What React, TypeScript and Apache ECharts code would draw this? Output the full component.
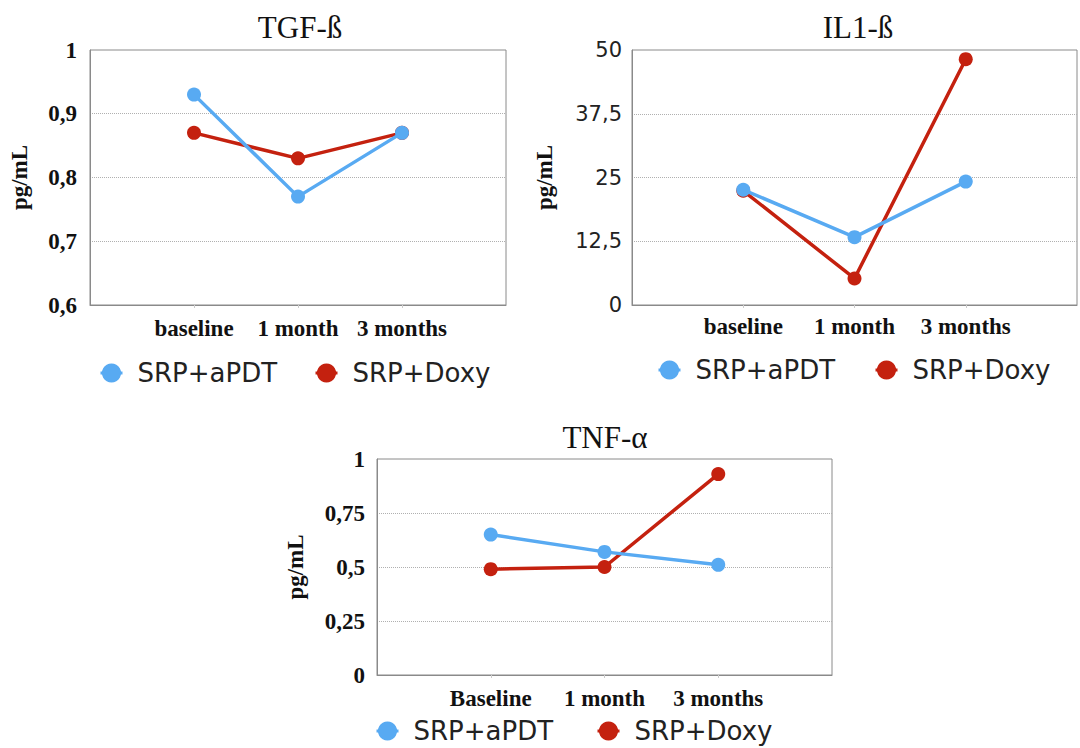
import React, { useEffect, useRef } from 'react';
import * as echarts from 'echarts';

const categories = ['baseline', '1 month', '3 months'];
const categoriesTNF = ['Baseline', '1 month', '3 months'];
const seriesNames = ['SRP+aPDT', 'SRP+Doxy'];
const titles = ['TGF-ß', 'IL1-ß', 'TNF-α'];
const yName = 'pg/mL';

const tgfAPDT = [0.93, 0.77, 0.87];
const tgfDoxy = [0.87, 0.83, 0.87];
const il1APDT = [22.6, 13.3, 24.2];
const il1Doxy = [22.4, 5.2, 48.2];
const tnfAPDT = [0.65, 0.57, 0.51];
const tnfDoxy = [0.49, 0.5, 0.93];

const tgfRange = [0.6, 1, 0.1];
const il1Range = [0, 50, 12.5];
const tnfRange = [0, 1, 0.25];

const BLUE = '#58aaf2';
const RED = '#c4210f';
const SERIF = "'Liberation Serif', 'Times New Roman', serif";
const SANS = "'DejaVu Sans', 'Liberation Sans', sans-serif";
const INK = '#111111';
const BORDER = '#8a8a8a';

const commaFmt = (v: number) => String(Math.round(v * 1000) / 1000).replace('.', ',');
const padCats = (c: string[]) => ['', ...c, ''];
const toPoints = (vals: number[]) => vals.map((v, i) => [i + 1, v]);

export default function App() {
  const ref = useRef<HTMLDivElement>(null);

  useEffect(() => {
    if (!ref.current) return;
    const chart = echarts.init(ref.current, null, { renderer: 'svg' });

    const grids = [
      { left: 90, top: 50, width: 416, height: 255 },
      { left: 632, top: 50, width: 454, height: 255 },
      { left: 377, top: 459, width: 455, height: 216 },
    ].map((g) => ({ ...g, show: true, borderColor: BORDER, borderWidth: 1, backgroundColor: 'transparent', containLabel: false }));

    const xCats = [categories, categories, categoriesTNF];
    const xMargins = [12, 10, 12];
    const xAxis = xCats.map((c, i) => ({
      type: 'category',
      gridIndex: i,
      data: padCats(c),
      boundaryGap: false,
      axisLine: { show: true, lineStyle: { color: BORDER, width: 1 } },
      axisTick: {
        show: true,
        length: 3,
        interval: (_idx: number, v: string) => v !== '',
        lineStyle: { color: '#cccccc' },
      },
      axisLabel: {
        interval: 0,
        margin: xMargins[i],
        fontFamily: SERIF,
        fontWeight: 'bold',
        fontSize: 23,
        color: INK,
      },
      splitLine: { show: false },
    }));

    const ranges = [tgfRange, il1Range, tnfRange];
    const nameGaps = [59, 76, 70];
    const labelMargins = [13, 10, 12];
    const yAxis = ranges.map((r, i) => ({
      type: 'value',
      gridIndex: i,
      min: r[0],
      max: r[1],
      interval: r[2],
      axisLine: { show: true, lineStyle: { color: BORDER, width: 1 } },
      axisTick: { show: false },
      splitLine: {
        show: true,
        showMinLine: false,
        showMaxLine: false,
        lineStyle: { type: 'dotted', color: '#b0b0b0', width: 1 },
      },
      axisLabel: {
        margin: labelMargins[i],
        formatter: commaFmt,
        fontFamily: i === 1 ? SANS : SERIF,
        fontWeight: i === 1 ? 'normal' : 'bold',
        fontSize: i === 1 ? 21 : 23,
        color: i === 1 ? '#222222' : INK,
      },
      name: yName,
      nameLocation: 'middle',
      nameRotate: 90,
      nameGap: nameGaps[i],
      nameTextStyle: { fontFamily: SERIF, fontWeight: 'bold', fontSize: 23, color: INK },
    }));

    const groups = [
      [tgfAPDT, tgfDoxy],
      [il1APDT, il1Doxy],
      [tnfAPDT, tnfDoxy],
    ];
    const colors = [BLUE, RED];
    const series: any[] = [];
    groups.forEach((pair, gi) => {
      // draw Doxy first so aPDT sits on top
      [1, 0].forEach((si) => {
        series.push({
          type: 'line',
          name: seriesNames[si],
          xAxisIndex: gi,
          yAxisIndex: gi,
          data: toPoints(pair[si]),
          symbol: 'circle',
          symbolSize: 14,
          showSymbol: true,
          lineStyle: { width: 3.5, color: colors[si] },
          itemStyle: { color: colors[si] },
          z: si === 0 ? 3 : 2,
        });
      });
    });

    const legendSpots = [
      [99, 360, 314, 360],
      [657, 357, 874, 357],
      [375, 718, 596, 718],
    ];
    const legend: any[] = [];
    legendSpots.forEach((s) => {
      seriesNames.forEach((n, k) => {
        legend.push({
          data: [n],
          left: s[k * 2],
          top: s[k * 2 + 1],
          orient: 'horizontal',
          itemWidth: 22,
          itemHeight: 24,
          padding: 0,
          lineStyle: { width: 3 },
          textStyle: {
            fontFamily: SANS,
            fontSize: 26,
            color: '#222222',
            padding: [0, 0, 0, 10],
          },
        });
      });
    });

    const titleSpots = [
      [300, 27],
      [858, 27],
      [605, 437],
    ];
    const graphic = titles.map((t, i) => ({
      type: 'text',
      x: titleSpots[i][0],
      y: titleSpots[i][1],
      style: {
        text: t,
        fontFamily: SERIF,
        fontSize: 31,
        fill: INK,
        textAlign: 'center',
        textVerticalAlign: 'middle',
      },
    }));

    chart.setOption({
      animation: false,
      backgroundColor: '#ffffff',
      grid: grids,
      xAxis,
      yAxis,
      series,
      legend,
      graphic,
    });

    return () => chart.dispose();
  }, []);

  return (
    <div
      ref={ref}
      style={{ position: 'fixed', left: 0, top: 0, width: 1080, height: 748, background: '#fff' }}
    />
  );
}
